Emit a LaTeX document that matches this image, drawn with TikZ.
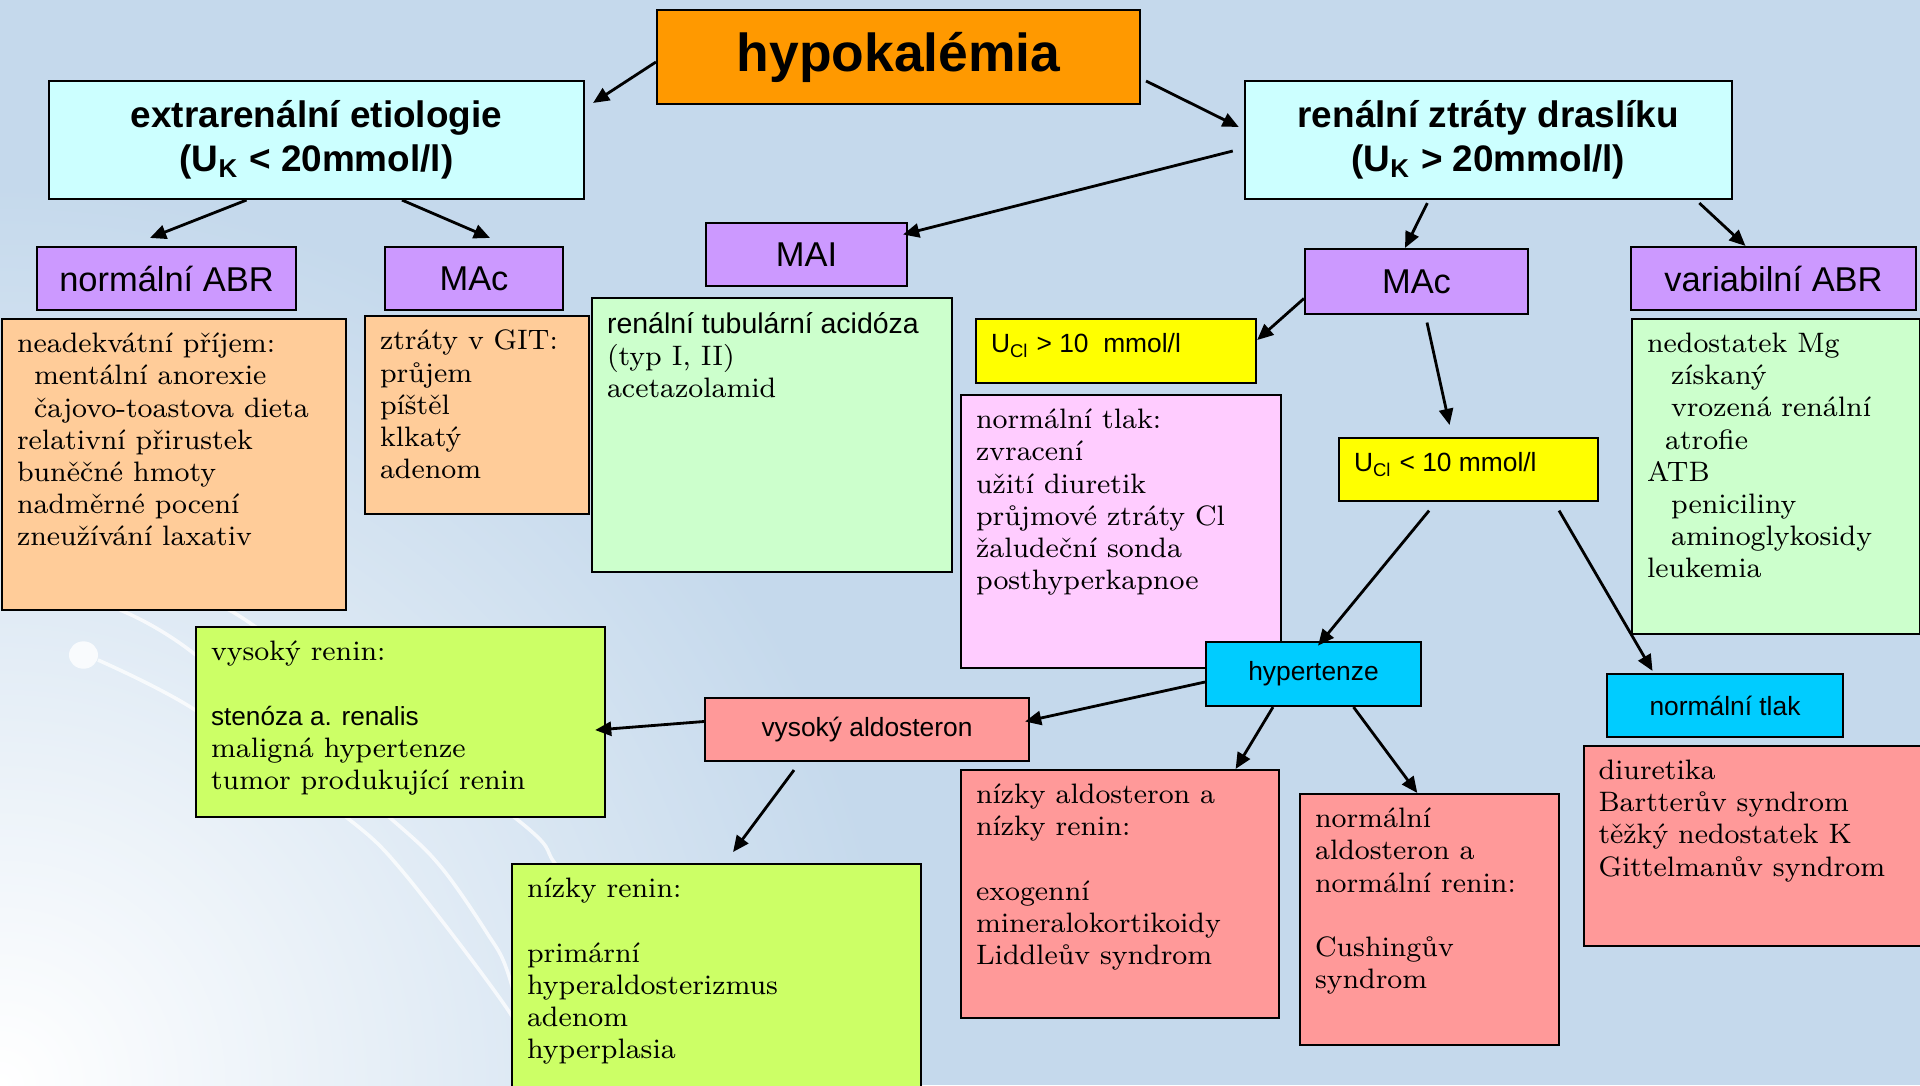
\documentclass[tikz,border=0pt]{standalone}
\usepackage{fontspec}
\newfontfamily\sansfnt{Liberation Sans}
\usepackage{tikz}
\usetikzlibrary{arrows.meta,positioning}

\definecolor{bgblue}{RGB}{197,217,236}
\definecolor{titleorange}{RGB}{255,153,0}
\definecolor{headcyan}{RGB}{204,255,255}
\definecolor{tagviolet}{RGB}{204,153,255}
\definecolor{boxpeach}{RGB}{255,204,153}
\definecolor{boxmint}{RGB}{204,255,204}
\definecolor{boxlemon}{RGB}{255,255,0}
\definecolor{boxlilac}{RGB}{255,204,255}
\definecolor{boxlime}{RGB}{204,255,102}
\definecolor{boxsalmon}{RGB}{255,153,153}
\definecolor{boxsky}{RGB}{0,204,255}

\tikzset{
    box/.style={draw=black, line width=0.6pt},
    titlebox/.style={box, fill=titleorange, minimum width=4.83cm, minimum height=0.94cm, font=\sansfnt\bfseries\fontsize{15.2}{18}\selectfont},
    headbox/.style={box, fill=headcyan, align=center, minimum width=5.35cm, minimum height=1.18cm, font=\sansfnt\bfseries\fontsize{10.5}{12.5}\selectfont},
    tagbox/.style={box, fill=tagviolet, minimum height=0.63cm, inner sep=0pt, font=\sansfnt\fontsize{9.8}{11.5}\selectfont},
    keybox/.style={box, minimum height=0.63cm, inner sep=0pt, font=\sansfnt\fontsize{7.5}{9}\selectfont},
    listbox/.style={box, anchor=north west, inner xsep=0.15cm, inner ysep=0.14cm, font=\fontsize{8.0}{9.15}\selectfont},
    notebox/.style={listbox, font=\sansfnt\fontsize{7.5}{9}\selectfont},
    arr/.style={-{Triangle[length=4.6pt,width=4pt]}, line width=0.8pt},
    swoosh/.style={white, line width=1pt, opacity=0.75},
}

\newcommand{\boxbody}[3]{\parbox[t][#2][t]{#1}{\raggedright #3}}

\begin{document}
\begin{tikzpicture}
    % background
    \useasboundingbox (0,0) rectangle (19.2,-10.85);
    \clip (0,0) rectangle (19.2,-10.85);
    \fill[bgblue] (0,0) rectangle (19.2,-10.85);
    \shade[inner color=white, outer color=bgblue] (0,-10.85) circle (9);
    \fill[white, opacity=0.8] (0.835,-6.55) ellipse (0.145 and 0.137);
    \draw[swoosh] plot[smooth] coordinates {(0.98,-6.60) (1.92,-7.08) (3.46,-8.17) (4.04,-8.73) (5.08,-10.10) (5.5,-10.9)};
    \draw[swoosh] plot[smooth] coordinates {(1.20,-6.10) (1.92,-6.52) (3.89,-8.17) (4.41,-8.67) (4.87,-9.33) (5.08,-9.73) (5.4,-10.9)};
    \draw[swoosh] plot[smooth] coordinates {(2.14,-6.10) (2.50,-6.23) (5.14,-8.17) (5.54,-8.62) (5.9,-9.2)};

    % top level
    \node[titlebox] (hypo) at (8.985,-0.57) {hypokalémia};
    \node[headbox] (extra) at (3.165,-1.40) {extrarenální etiologie\\(U\textsubscript{K} < 20mmol/l)};
    \node[headbox, minimum width=4.87cm] (renal) at (14.883,-1.40) {renální ztráty draslíku\\(U\textsubscript{K} > 20mmol/l)};

    % acid-base tags
    \node[tagbox, minimum width=2.59cm] (normabr) at (1.665,-2.785) {normální ABR};
    \node[tagbox, minimum width=1.78cm] (macleft) at (4.74,-2.785) {MAc};
    \node[tagbox, minimum width=2.01cm] (mai) at (8.065,-2.545) {MAI};
    \node[tagbox, minimum width=2.23cm, minimum height=0.65cm] (macright) at (14.165,-2.815) {MAc};
    \node[tagbox, minimum width=2.85cm] (varabr) at (17.735,-2.785) {variabilní ABR};

    % causes
    \node[listbox, fill=boxpeach] (intake) at (0.01,-3.18) {\boxbody{3.14cm}{2.63cm}{neadekvátní příjem:\\
        \hspace*{0.17cm}mentální anorexie\\
        \hspace*{0.17cm}čajovo-toastova dieta\\
        relativní přirustek\\
        buněčné hmoty\\
        nadměrné pocení\\
        zneužívání laxativ}};
    \node[listbox, fill=boxpeach] (gitloss) at (3.64,-3.15) {\boxbody{1.94cm}{1.70cm}{ztráty v GIT:\\průjem\\píštěl\\klkatý\\adenom}};
    \node[listbox, fill=boxmint] (rta) at (5.91,-2.97) {\boxbody{3.30cm}{2.46cm}{{\sansfnt\fontsize{8.1}{9.15}\selectfont renální tubulární acidóza}\\(typ I, II)\\acetazolamid}};
    \node[notebox, fill=boxlemon] (uclhigh) at (9.75,-3.18) {\boxbody{2.50cm}{0.36cm}{U\textsubscript{Cl} > 10~ mmol/l}};
    \node[listbox, fill=boxlilac] (vomit) at (9.60,-3.94) {\boxbody{2.90cm}{2.45cm}{normální tlak:\\zvracení\\užití diuretik\\průjmové ztráty Cl\\žaludeční sonda\\posthyperkapnoe}};
    \node[notebox, fill=boxlemon] (ucllow) at (13.38,-4.37) {\boxbody{2.29cm}{0.35cm}{U\textsubscript{Cl} < 10 mmol/l}};
    \node[listbox, fill=boxmint] (magnes) at (16.31,-3.18) {\boxbody{2.58cm}{2.87cm}{nedostatek Mg\\
        \hspace*{0.24cm}získaný\\
        \hspace*{0.24cm}vrozená renální\\
        \hspace*{0.18cm}atrofie\\
        ATB\\
        \hspace*{0.24cm}peniciliny\\
        \hspace*{0.24cm}aminoglykosidy\\
        leukemia}};

    % pressure branches
    \node[keybox, fill=boxsky, minimum width=2.15cm, minimum height=0.64cm] (hyper) at (13.135,-6.74) {hypertenze};
    \node[keybox, fill=boxsky, minimum width=2.36cm] (normtlak) at (17.25,-7.055) {normální tlak};
    \node[keybox, fill=boxsalmon, minimum width=3.24cm] (highald) at (8.67,-7.295) {vysoký aldosteron};

    % aldosterone and renin
    \node[listbox, fill=boxlime] (highren) at (1.95,-6.26) {\boxbody{3.79cm}{1.62cm}{vysoký renin:\\[9.15pt]
        {\sansfnt\fontsize{7.45}{9.15}\selectfont stenóza a. renalis}\\
        maligná hypertenze\\
        tumor produkující renin}};
    \node[listbox, fill=boxlime] (lowren) at (5.11,-8.63) {\boxbody{3.79cm}{2.02cm}{nízky renin:\\[9.15pt]primární\\hyperaldosterizmus\\adenom\\hyperplasia}};
    \node[listbox, fill=boxsalmon] (lowald) at (9.60,-7.69) {\boxbody{2.875cm}{2.20cm}{nízky aldosteron a\\nízky renin:\\[9.15pt]exogenní\\mineralokortikoidy\\Liddleův syndrom}};
    \node[listbox, fill=boxsalmon] (normald) at (12.99,-7.93) {\boxbody{2.285cm}{2.23cm}{normální\\aldosteron a\\normální renin:\\[9.15pt]Cushingův\\syndrom}};
    \node[listbox, fill=boxsalmon] (bartter) at (15.825,-7.45) {\boxbody{3.07cm}{1.72cm}{diuretika\\Bartterův syndrom\\těžký nedostatek K\\Gittelmanův syndrom}};

    % arrows
    \draw[arr] ([yshift=-0.05cm]hypo.west) -- ([xshift=0.08cm,yshift=-0.23cm]extra.north east);
    \draw[arr] ([xshift=0.05cm,yshift=-0.24cm]hypo.east) -- ([xshift=-0.05cm,yshift=0.13cm]renal.west);
    \draw[arr] ([xshift=-0.11cm,yshift=-0.11cm]renal.west) -- ([xshift=-0.05cm,yshift=0.20cm]mai.east);
    \draw[arr] ([xshift=-0.70cm]extra.south) -- ([xshift=-0.165cm,yshift=0.08cm]normabr.north);
    \draw[arr] ([xshift=0.855cm]extra.south) -- ([xshift=0.16cm,yshift=0.08cm]macleft.north);
    \draw[arr] ([xshift=-0.61cm,yshift=-0.03cm]renal.south) -- ([xshift=-0.115cm]macright.north);
    \draw[arr] ([xshift=2.11cm,yshift=-0.03cm]renal.south) -- ([xshift=-0.28cm]varabr.north);
    \draw[arr] ([yshift=-0.17cm]macright.west) -- ([yshift=0.11cm]uclhigh.east);
    \draw[arr] ([xshift=0.105cm,yshift=-0.075cm]macright.south) -- ([xshift=-0.19cm,yshift=0.12cm]ucllow.north);
    \draw[arr] ([xshift=-0.395cm,yshift=-0.085cm]ucllow.south) -- ([xshift=0.045cm,yshift=-0.047cm]hyper.north);
    \draw[arr] ([xshift=0.905cm,yshift=-0.085cm]ucllow.south) -- ([xshift=-0.725cm,yshift=0.02cm]normtlak.north);
    \draw[arr] ([yshift=-0.08cm]hyper.west) -- ([xshift=-0.05cm,yshift=0.08cm]highald.east);
    \draw[arr] ([yshift=0.08cm]highald.west) -- ([xshift=-0.11cm,yshift=-0.08cm]highren.east);
    \draw[arr] ([xshift=-0.73cm,yshift=-0.08cm]highald.south) -- ([xshift=0.165cm,yshift=0.11cm]lowren.north);
    \draw[arr] ([xshift=-0.405cm]hyper.south) -- ([xshift=-0.44cm]lowald.north east);
    \draw[arr] ([xshift=0.40cm]hyper.south) -- ([xshift=-0.12cm]normald.north);
\end{tikzpicture}
\end{document}
